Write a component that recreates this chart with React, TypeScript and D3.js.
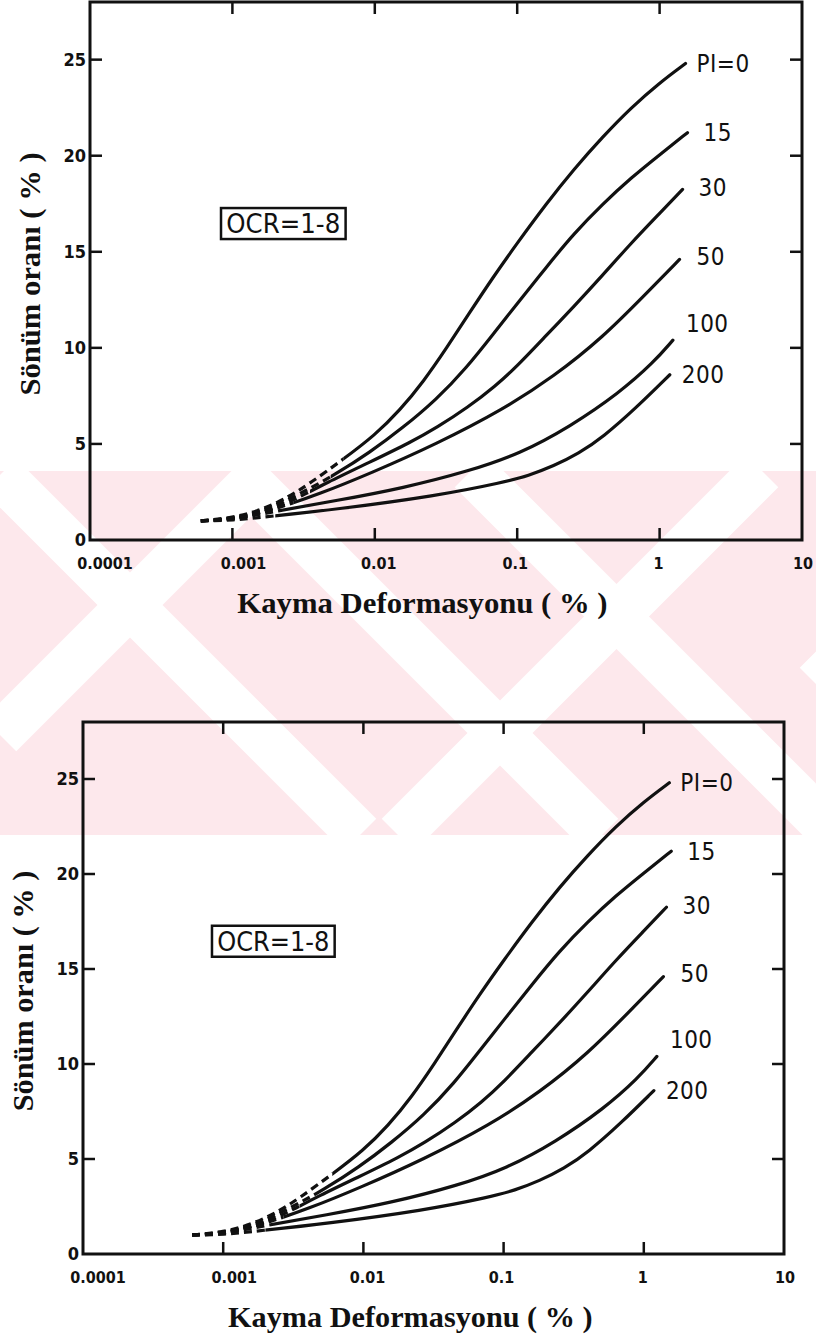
import React from 'react';
import * as d3 from 'd3';

// axis ticks
const strainTicks = [0.0001, 0.001, 0.01, 0.1, 1, 10];
const strainTickLabels = ['0.0001', '0.001', '0.01', '0.1', '1', '10'];
const dampingTicks = [0, 5, 10, 15, 20, 25];
const innerStrainTicks = [0.001, 0.01, 0.1, 1];
const innerDampingTicks = [5, 10, 15, 20, 25];

// curves: [shear strain %, damping ratio %]
const pi0 = [[0.0006, 1.0], [0.001, 1.15], [0.0016, 1.55], [0.0025, 2.25], [0.0035, 2.95], [0.006, 4.2], [0.01, 5.45], [0.015, 6.75], [0.022, 8.25], [0.032, 10.0], [0.046, 11.8], [0.068, 13.7], [0.1, 15.45], [0.16, 17.5], [0.25, 19.3], [0.4, 21.0], [0.63, 22.5], [1.0, 23.8], [1.52, 24.8]];
const pi15 = [[0.0006, 1.0], [0.001, 1.12], [0.0016, 1.45], [0.0029, 2.35], [0.0054, 3.45], [0.0092, 4.55], [0.0158, 5.85], [0.027, 7.3], [0.044, 8.95], [0.07, 10.85], [0.1, 12.3], [0.16, 14.2], [0.25, 15.95], [0.4, 17.5], [0.63, 18.85], [1.0, 20.05], [1.57, 21.2]];
const pi30 = [[0.0006, 1.0], [0.001, 1.08], [0.0018, 1.5], [0.003, 2.25], [0.0045, 2.95], [0.0092, 4.05], [0.018, 5.1], [0.0272, 5.85], [0.045, 6.9], [0.07, 8.0], [0.1, 9.05], [0.16, 10.65], [0.25, 12.15], [0.4, 13.8], [0.63, 15.45], [1.0, 17.0], [1.45, 18.25]];
const pi50 = [[0.0006, 1.0], [0.001, 1.06], [0.002, 1.6], [0.0041, 2.4], [0.0092, 3.45], [0.0272, 5.0], [0.08, 6.8], [0.18, 8.5], [0.4, 10.55], [0.81, 12.85], [1.38, 14.6]];
const pi100 = [[0.0006, 1.0], [0.001, 1.05], [0.002, 1.5], [0.0054, 2.05], [0.0158, 2.7], [0.0467, 3.6], [0.105, 4.5], [0.235, 5.9], [0.52, 7.65], [0.91, 9.25], [1.24, 10.4]];
const pi200 = [[0.0006, 1.0], [0.001, 1.02], [0.0018, 1.22], [0.0054, 1.6], [0.0272, 2.3], [0.08, 3.0], [0.12, 3.35], [0.18, 3.85], [0.27, 4.5], [0.4, 5.35], [0.69, 6.9], [1.18, 8.6]];

const curves = [pi0, pi15, pi30, pi50, pi100, pi200];
const curveLabels = ['PI=0', '15', '30', '50', '100', '200'];
// strain where the dashed start of each curve turns solid
const dashedUntil = [0.006, 0.0049, 0.0035, 0.0027, 0.0023, 0.002];

// label offsets from curve end, px
const labelOffsets = [[11, 0], [16, 0], [16, -2], [17, -3], [13, -17], [12, 0]];
const xLabelShift = [15, 11, 4, -2, -1, 1];

const serif = '"Liberation Serif", "Times New Roman", serif';
const narrow = '"DejaVu Sans Condensed", "Liberation Sans Narrow", "DejaVu Sans", sans-serif';

const Chart = ({ id, x0, x1, y0, y1 }) => {
  const x = d3.scaleLog().domain([1e-4, 10]).range([x0, x1]);
  const y = d3.scaleLinear().domain([0, 28]).range([y0, y1]);
  const line = d3.line().x(d => x(d[0])).y(d => y(d[1])).curve(d3.curveBasis);
  const w = x1 - x0;
  const h = y0 - y1;
  const tick = 12;
  const bx = x0 + w * 0.184;
  const by = y1 + h * 0.383;

  return (
    <g>
      <defs>
        {curves.map((c, i) => (
          <React.Fragment key={i}>
            <clipPath id={`${id}-d${i}`}>
              <rect x={x0} y={y1} width={x(dashedUntil[i]) - x0} height={h} />
            </clipPath>
            <clipPath id={`${id}-s${i}`}>
              <rect x={x(dashedUntil[i])} y={y1} width={x1 - x(dashedUntil[i])} height={h} />
            </clipPath>
          </React.Fragment>
        ))}
      </defs>

      {curves.map((c, i) => (
        <g key={i} fill="none" stroke="#111" strokeWidth={3.2} strokeLinecap="round">
          <path d={line(c)} clipPath={`url(#${id}-d${i})`} strokeDasharray="8 5" strokeLinecap="butt" />
          <path d={line(c)} clipPath={`url(#${id}-s${i})`} />
        </g>
      ))}

      {curves.map((c, i) => {
        const end = c[c.length - 1];
        return (
          <text key={i} x={x(end[0]) + labelOffsets[i][0]} y={y(end[1]) + labelOffsets[i][1]} dy="0.36em"
            fontFamily={narrow} fontSize={24} fill="#111" letterSpacing={0.5}>{curveLabels[i]}</text>
        );
      })}

      <rect x={x0} y={y1} width={w} height={h} fill="none" stroke="#111" strokeWidth={3} />

      {innerStrainTicks.map(t => (
        <g key={t} stroke="#111" strokeWidth={2.5}>
          <line x1={x(t)} x2={x(t)} y1={y0} y2={y0 - tick} />
          <line x1={x(t)} x2={x(t)} y1={y1} y2={y1 + tick} />
        </g>
      ))}
      {innerDampingTicks.map(t => (
        <g key={t} stroke="#111" strokeWidth={2.5}>
          <line x1={x0} x2={x0 + tick} y1={y(t)} y2={y(t)} />
          <line x1={x1} x2={x1 - tick} y1={y(t)} y2={y(t)} />
        </g>
      ))}

      {strainTicks.map((t, i) => (
        <text key={t} x={x(t) + xLabelShift[i]} y={y0 + 29} textAnchor="middle"
          fontFamily={narrow} fontWeight="bold" fontSize={16} fill="#111">{strainTickLabels[i]}</text>
      ))}
      {dampingTicks.map(t => (
        <text key={t} x={x0 - 4} y={y(t)} dy="0.36em" textAnchor="end"
          fontFamily={narrow} fontWeight="bold" fontSize={18} fill="#111">{t}</text>
      ))}

      <rect x={bx} y={by} width={w * 0.175} height={31} fill="none" stroke="#111" strokeWidth={2.5} />
      <text x={bx + w * 0.0875} y={by + 16} dy="0.36em" textAnchor="middle"
        fontFamily={narrow} fontSize={26} fill="#111" textLength={w * 0.16} lengthAdjust="spacingAndGlyphs">OCR=1-8</text>

      <text x={x0 + w * 0.467} y={y0 + 73} textAnchor="middle" fontFamily={serif} fontWeight="bold"
        fontSize={30} fill="#111" textLength={w * 0.52} lengthAdjust="spacingAndGlyphs">Kayma Deformasyonu ( % )</text>
      <text transform={`translate(${x0 - 50},${(y0 + y1) / 2 + 3}) rotate(-90)`} textAnchor="middle"
        fontFamily={serif} fontWeight="bold" fontSize={30} fill="#111" textLength={h * 0.452}
        lengthAdjust="spacingAndGlyphs">Sönüm oranı ( % )</text>
    </g>
  );
};

// faint background watermark stripes (x1, y1, x2, y2)
const stripes = [
  [0, 475, 360, 835], [0, 735, 264, 471], [238, 471, 602, 835],
  [762, 471, 398, 835], [471, 471, 835, 835], [816, 684, 1029, 471],
];

export default function App() {
  return (
    <div style={{ position: 'absolute', left: 0, top: 0 }}>
      <svg width={816} height={1336} style={{ display: 'block', background: '#fff' }}>
        <defs>
          <clipPath id="band">
            <rect x={0} y={471} width={816} height={364} />
          </clipPath>
        </defs>
        <rect x={0} y={471} width={816} height={364} fill="#fde8ec" />
        <g clipPath="url(#band)" stroke="#fff" strokeWidth={46}>
          {stripes.map((s, i) => <line key={i} x1={s[0]} y1={s[1]} x2={s[2]} y2={s[3]} />)}
        </g>
        <Chart id="top" x0={90} x1={802} y0={540} y1={2} />
        <Chart id="bot" x0={83} x1={784} y0={1254} y1={722} />
      </svg>
    </div>
  );
}
